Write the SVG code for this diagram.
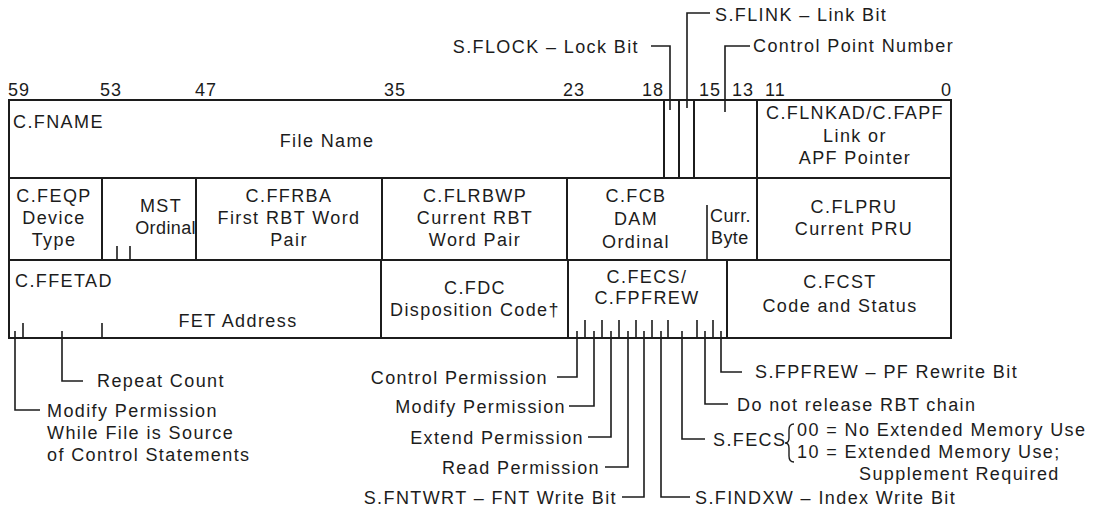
<svg xmlns="http://www.w3.org/2000/svg" width="1103" height="516" viewBox="0 0 1103 516">
<style>
.t{font-family:"Liberation Sans",Arial,sans-serif;font-size:18px;letter-spacing:1.4px;fill:#1c1c1c}
.n{letter-spacing:1px}
.c{text-anchor:middle}
.e{text-anchor:end}
.cell{fill:none;stroke:#1c1c1c;stroke-width:2}
.tk{stroke:#1c1c1c;stroke-width:1.6;fill:none}
.ld{stroke:#1c1c1c;stroke-width:1.6;fill:none}
</style>
<rect width="1103" height="516" fill="#ffffff"/>

<g id="bit-numbers" class="t n">
<text x="8" y="96">59</text>
<text x="100" y="96">53</text>
<text x="195" y="96">47</text>
<text x="384" y="96">35</text>
<text x="563" y="96">23</text>
<text x="664" y="96" class="e">18</text>
<text x="699" y="96">15</text>
<text x="732" y="96">13</text>
<text x="765" y="96">11</text>
<text x="941" y="96">0</text>
</g>

<!-- Row 1 -->
<g id="C.FNAME">
<rect class="cell" x="9" y="100" width="655" height="78"/>
<text class="t" x="13" y="128">C.FNAME</text>
<text class="t c" x="327" y="147">File Name</text>
</g>
<g id="S.FLOCK-bit"><rect class="cell" x="664" y="100" width="15" height="78"/></g>
<g id="S.FLINK-bit"><rect class="cell" x="679" y="100" width="15" height="78"/></g>
<g id="control-point"><rect class="cell" x="694" y="100" width="63" height="78"/></g>
<g id="C.FLNKAD">
<rect class="cell" x="757" y="100" width="194" height="78"/>
<text class="t c" x="855" y="119">C.FLNKAD/C.FAPF</text>
<text class="t c" x="855" y="142">Link or</text>
<text class="t c" x="855" y="164">APF Pointer</text>
</g>

<!-- Row 2 -->
<g id="C.FEQP">
<rect class="cell" x="9" y="178" width="93" height="82"/>
<text class="t c" x="54" y="202">C.FEQP</text>
<text class="t c" x="54" y="224">Device</text>
<text class="t c" x="54" y="246">Type</text>
</g>
<g id="MST">
<rect class="cell" x="102" y="178" width="94" height="82"/>
<path class="tk" d="M117,260V246M130,260V246"/>
<text class="t c" x="161" y="212">MST</text>
<text class="t e" x="196" y="234" style="letter-spacing:0.4px">Ordinal</text>
</g>
<g id="C.FFRBA">
<rect class="cell" x="196" y="178" width="186" height="82"/>
<text class="t c" x="289" y="202">C.FFRBA</text>
<text class="t c" x="289" y="224">First RBT Word</text>
<text class="t c" x="289" y="246">Pair</text>
</g>
<g id="C.FLRBWP">
<rect class="cell" x="382" y="178" width="185" height="82"/>
<text class="t c" x="475" y="202">C.FLRBWP</text>
<text class="t c" x="475" y="224">Current RBT</text>
<text class="t c" x="475" y="246">Word Pair</text>
</g>
<g id="C.FCB">
<rect class="cell" x="567" y="178" width="190" height="82"/>
<path class="tk" d="M707,205V260"/>
<text class="t c" x="636" y="202">C.FCB</text>
<text class="t c" x="636" y="225">DAM</text>
<text class="t c" x="636" y="248">Ordinal</text>
<text class="t" x="710" y="222" style="letter-spacing:0.4px">Curr.</text>
<text class="t" x="711" y="244" style="letter-spacing:0.4px">Byte</text>
</g>
<g id="C.FLPRU">
<rect class="cell" x="757" y="178" width="194" height="82"/>
<text class="t c" x="854" y="213">C.FLPRU</text>
<text class="t c" x="854" y="235">Current PRU</text>
</g>

<!-- Row 3 -->
<g id="C.FFETAD">
<rect class="cell" x="9" y="260" width="372" height="78"/>
<path class="tk" d="M23,338V323M102,338V323"/>
<text class="t" x="15" y="287">C.FFETAD</text>
<text class="t c" x="238" y="327">FET Address</text>
</g>
<g id="C.FDC">
<rect class="cell" x="381" y="260" width="187" height="78"/>
<text class="t c" x="475" y="294">C.FDC</text>
<text class="t c" x="475" y="316">Disposition Code†</text>
</g>
<g id="C.FECS">
<rect class="cell" x="568" y="260" width="159" height="78"/>
<path class="tk" d="M585,338V320M602,338V320M619,338V320M636,338V320M652,338V320M668,338V320M697,338V320M713,338V320"/>
<text class="t c" x="647" y="283">C.FECS/</text>
<text class="t c" x="647" y="304">C.FPFREW</text>
</g>
<g id="C.FCST">
<rect class="cell" x="727" y="260" width="224" height="78"/>
<text class="t c" x="840" y="288">C.FCST</text>
<text class="t c" x="840" y="312">Code and Status</text>
</g>

<!-- Connectors (leaders) -->
<g id="connectors" class="ld">
<path d="M651,46H670V110"/>
<path d="M710,13H687V108"/>
<path d="M750,46H725V112"/>
<path d="M62,331V381H83"/>
<path d="M15,331V410H40"/>
<path d="M577,331V377H557"/>
<path d="M594,331V406H569"/>
<path d="M611,331V437H588"/>
<path d="M628,331V467H605"/>
<path d="M644,331V497H622"/>
<path d="M661,331V497H690"/>
<path d="M682,331V439H705"/>
<path d="M705,331V404H728"/>
<path d="M721,331V372H742"/>
<path d="M794,424Q789,424 789,430V438Q789,443 785,443Q789,443 789,448V456Q789,462 794,462" stroke-width="1.4"/>
</g>

<!-- Leader labels -->
<g id="labels" class="t">
<text x="639" y="53" class="e">S.FLOCK – Lock Bit</text>
<text x="715" y="21">S.FLINK – Link Bit</text>
<text x="753" y="52">Control Point Number</text>
<text x="97" y="387">Repeat Count</text>
<text x="47" y="417">Modify Permission</text>
<text x="47" y="439">While File is Source</text>
<text x="47" y="461">of Control Statements</text>
<text x="548" y="384" class="e">Control Permission</text>
<text x="566" y="413" class="e">Modify Permission</text>
<text x="584" y="444" class="e">Extend Permission</text>
<text x="600" y="474" class="e">Read Permission</text>
<text x="617" y="504" class="e">S.FNTWRT – FNT Write Bit</text>
<text x="695" y="504">S.FINDXW – Index Write Bit</text>
<text x="713" y="446">S.FECS</text>
<text x="797" y="436">00 = No Extended Memory Use</text>
<text x="797" y="458">10 = Extended Memory Use;</text>
<text x="859" y="480">Supplement Required</text>
<text x="737" y="411">Do not release RBT chain</text>
<text x="755" y="378">S.FPFREW – PF Rewrite Bit</text>
</g>
</svg>
